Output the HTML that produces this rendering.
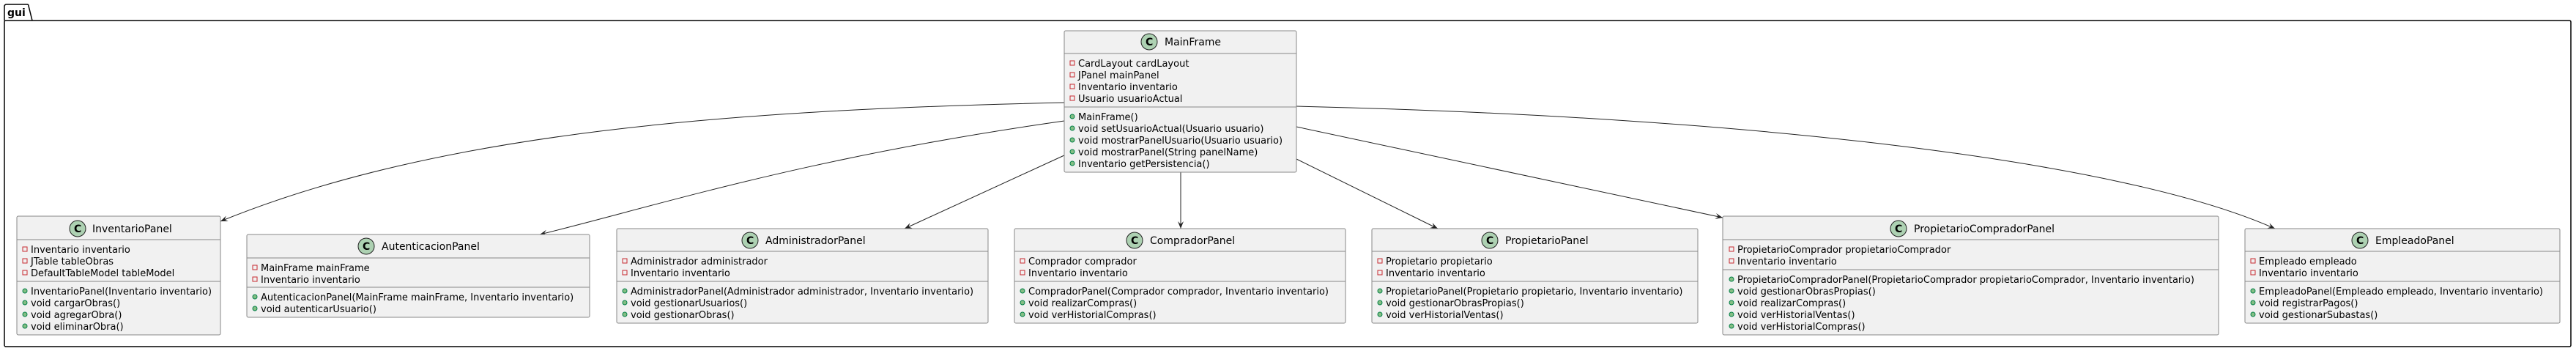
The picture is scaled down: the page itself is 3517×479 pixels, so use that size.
<!DOCTYPE html>
<html><head><meta charset="utf-8"><style>
html,body{margin:0;padding:0;background:#fff;}
svg{display:block;}
text{font-family:"DejaVu Sans","Liberation Sans",sans-serif;font-size:13px;fill:#000;}
.box{fill:#f1f1f1;stroke:#888;stroke-width:1;}
.div{stroke:#888;stroke-width:1;}
.ln{fill:none;stroke:#222;stroke-width:1;}
.ci{fill:#add1b2;stroke:#222;stroke-width:1;}
.pa{fill:none;stroke:#c82930;stroke-width:1;}
.pu{fill:#84be84;stroke:#038048;stroke-width:1;}
.t{font-size:14px;}
</style></head><body>
<svg width="3517" height="479" viewBox="0 0 3517 479" xmlns="http://www.w3.org/2000/svg">
<defs>
<marker id="ar" markerWidth="12" markerHeight="10" refX="10" refY="4" orient="auto" markerUnits="userSpaceOnUse">
<path d="M0,0 L10,4 L0,8 L4,4 z" fill="#222"/>
</marker>
</defs>
<!-- package -->
<path d="M6,28 L6,9 Q6,6 9,6 L37,6 Q39,6 39,8 L44,28" fill="none" stroke="#000" stroke-width="1.5"/>
<rect x="6" y="28" width="3504" height="445" rx="2" fill="none" stroke="#000" stroke-width="1.5"/>
<text x="10" y="22" style="font-weight:bold;font-size:14px">gui</text>

<!-- connectors -->
<path class="ln" d="M1453,140 C1000,150 600,180 301,302" marker-end="url(#ar)"/>
<path class="ln" d="M1453,165 C1100,215 900,280 737,320" marker-end="url(#ar)"/>
<path class="ln" d="M1453,212 L1235,312" marker-end="url(#ar)"/>
<path class="ln" d="M1612,235 L1612,312" marker-end="url(#ar)"/>
<path class="ln" d="M1770,217 L1963,312" marker-end="url(#ar)"/>
<path class="ln" d="M1770,173 L2352,297" marker-end="url(#ar)"/>
<path class="ln" d="M1770,145 C2400,160 2900,220 3106,312" marker-end="url(#ar)"/>

<!-- MainFrame -->
<rect class="box" x="1453" y="42" width="317" height="193" rx="2"/>
<line class="div" x1="1453" y1="73" x2="1770" y2="73"/>
<line class="div" x1="1453" y1="146" x2="1770" y2="146"/>
<circle class="ci" cx="1569" cy="57" r="11"/><text x="1564" y="62" style="font-weight:bold;font-size:14px">C</text>
<text class="t" x="1590" y="62">MainFrame</text>
<rect class="pa" x="1461" y="83" width="6" height="6"/><text x="1472" y="91">CardLayout cardLayout</text>
<rect class="pa" x="1461" y="99" width="6" height="6"/><text x="1472" y="107">JPanel mainPanel</text>
<rect class="pa" x="1461" y="115" width="6" height="6"/><text x="1472" y="123">Inventario inventario</text>
<rect class="pa" x="1461" y="131" width="6" height="6"/><text x="1472" y="139">Usuario usuarioActual</text>
<circle class="pu" cx="1464" cy="159" r="3"/><text x="1472" y="164">MainFrame()</text>
<circle class="pu" cx="1464" cy="175" r="3"/><text x="1472" y="180">void setUsuarioActual(Usuario usuario)</text>
<circle class="pu" cx="1464" cy="191" r="3"/><text x="1472" y="196">void mostrarPanelUsuario(Usuario usuario)</text>
<circle class="pu" cx="1464" cy="207" r="3"/><text x="1472" y="212">void mostrarPanel(String panelName)</text>
<circle class="pu" cx="1464" cy="223" r="3"/><text x="1472" y="228">Inventario getPersistencia()</text>

<!-- InventarioPanel -->
<rect class="box" x="23" y="295" width="278" height="162" rx="2"/>
<line class="div" x1="23" y1="327" x2="301" y2="327"/>
<line class="div" x1="23" y1="384" x2="301" y2="384"/>
<circle class="ci" cx="106" cy="312" r="11"/><text x="101" y="317" style="font-weight:bold;font-size:14px">C</text>
<text class="t" x="126" y="317">InventarioPanel</text>
<rect class="pa" x="31" y="337" width="6" height="6"/><text x="42" y="345">Inventario inventario</text>
<rect class="pa" x="31" y="353" width="6" height="6"/><text x="42" y="361">JTable tableObras</text>
<rect class="pa" x="31" y="369" width="6" height="6"/><text x="42" y="377">DefaultTableModel tableModel</text>
<circle class="pu" cx="34" cy="397" r="3"/><text x="42" y="402">InventarioPanel(Inventario inventario)</text>
<circle class="pu" cx="34" cy="413" r="3"/><text x="42" y="418">void cargarObras()</text>
<circle class="pu" cx="34" cy="429" r="3"/><text x="42" y="434">void agregarObra()</text>
<circle class="pu" cx="34" cy="445" r="3"/><text x="42" y="450">void eliminarObra()</text>

<!-- AutenticacionPanel -->
<rect class="box" x="337" y="320" width="468" height="113" rx="2"/>
<line class="div" x1="337" y1="352" x2="805" y2="352"/>
<line class="div" x1="337" y1="392" x2="805" y2="392"/>
<circle class="ci" cx="500" cy="336" r="11"/><text x="495" y="341" style="font-weight:bold;font-size:14px">C</text>
<text class="t" x="521" y="341">AutenticacionPanel</text>
<rect class="pa" x="345" y="362" width="6" height="6"/><text x="356" y="370">MainFrame mainFrame</text>
<rect class="pa" x="345" y="378" width="6" height="6"/><text x="356" y="386">Inventario inventario</text>
<circle class="pu" cx="348" cy="405" r="3"/><text x="356" y="410">AutenticacionPanel(MainFrame mainFrame, Inventario inventario)</text>
<circle class="pu" cx="348" cy="421" r="3"/><text x="356" y="426">void autenticarUsuario()</text>

<!-- AdministradorPanel -->
<rect class="box" x="842" y="312" width="507" height="129" rx="2"/>
<line class="div" x1="842" y1="343" x2="1349" y2="343"/>
<line class="div" x1="842" y1="384" x2="1349" y2="384"/>
<circle class="ci" cx="1024" cy="328" r="11"/><text x="1019" y="333" style="font-weight:bold;font-size:14px">C</text>
<text class="t" x="1045" y="333">AdministradorPanel</text>
<rect class="pa" x="850" y="353" width="6" height="6"/><text x="861" y="361">Administrador administrador</text>
<rect class="pa" x="850" y="369" width="6" height="6"/><text x="861" y="377">Inventario inventario</text>
<circle class="pu" cx="853" cy="397" r="3"/><text x="861" y="402">AdministradorPanel(Administrador administrador, Inventario inventario)</text>
<circle class="pu" cx="853" cy="413" r="3"/><text x="861" y="418">void gestionarUsuarios()</text>
<circle class="pu" cx="853" cy="429" r="3"/><text x="861" y="434">void gestionarObras()</text>

<!-- CompradorPanel -->
<rect class="box" x="1385" y="312" width="452" height="129" rx="2"/>
<line class="div" x1="1385" y1="343" x2="1837" y2="343"/>
<line class="div" x1="1385" y1="384" x2="1837" y2="384"/>
<circle class="ci" cx="1549" cy="328" r="11"/><text x="1544" y="333" style="font-weight:bold;font-size:14px">C</text>
<text class="t" x="1570" y="333">CompradorPanel</text>
<rect class="pa" x="1393" y="353" width="6" height="6"/><text x="1404" y="361">Comprador comprador</text>
<rect class="pa" x="1393" y="369" width="6" height="6"/><text x="1404" y="377">Inventario inventario</text>
<circle class="pu" cx="1396" cy="397" r="3"/><text x="1404" y="402">CompradorPanel(Comprador comprador, Inventario inventario)</text>
<circle class="pu" cx="1396" cy="413" r="3"/><text x="1404" y="418">void realizarCompras()</text>
<circle class="pu" cx="1396" cy="429" r="3"/><text x="1404" y="434">void verHistorialCompras()</text>

<!-- PropietarioPanel -->
<rect class="box" x="1873" y="312" width="445" height="129" rx="2"/>
<line class="div" x1="1873" y1="343" x2="2318" y2="343"/>
<line class="div" x1="1873" y1="384" x2="2318" y2="384"/>
<circle class="ci" cx="2034" cy="328" r="11"/><text x="2029" y="333" style="font-weight:bold;font-size:14px">C</text>
<text class="t" x="2055" y="333">PropietarioPanel</text>
<rect class="pa" x="1881" y="353" width="6" height="6"/><text x="1892" y="361">Propietario propietario</text>
<rect class="pa" x="1881" y="369" width="6" height="6"/><text x="1892" y="377">Inventario inventario</text>
<circle class="pu" cx="1884" cy="397" r="3"/><text x="1892" y="402">PropietarioPanel(Propietario propietario, Inventario inventario)</text>
<circle class="pu" cx="1884" cy="413" r="3"/><text x="1892" y="418">void gestionarObrasPropias()</text>
<circle class="pu" cx="1884" cy="429" r="3"/><text x="1892" y="434">void verHistorialVentas()</text>

<!-- PropietarioCompradorPanel -->
<rect class="box" x="2352" y="295" width="677" height="162" rx="2"/>
<line class="div" x1="2352" y1="327" x2="3029" y2="327"/>
<line class="div" x1="2352" y1="368" x2="3029" y2="368"/>
<circle class="ci" cx="2592" cy="312" r="11"/><text x="2587" y="317" style="font-weight:bold;font-size:14px">C</text>
<text class="t" x="2613" y="317">PropietarioCompradorPanel</text>
<rect class="pa" x="2361" y="337" width="6" height="6"/><text x="2372" y="345">PropietarioComprador propietarioComprador</text>
<rect class="pa" x="2361" y="353" width="6" height="6"/><text x="2372" y="361">Inventario inventario</text>
<circle class="pu" cx="2364" cy="381" r="3"/><text x="2372" y="386">PropietarioCompradorPanel(PropietarioComprador propietarioComprador, Inventario inventario)</text>
<circle class="pu" cx="2364" cy="397" r="3"/><text x="2372" y="402">void gestionarObrasPropias()</text>
<circle class="pu" cx="2364" cy="413" r="3"/><text x="2372" y="418">void realizarCompras()</text>
<circle class="pu" cx="2364" cy="429" r="3"/><text x="2372" y="434">void verHistorialVentas()</text>
<circle class="pu" cx="2364" cy="445" r="3"/><text x="2372" y="450">void verHistorialCompras()</text>

<!-- EmpleadoPanel -->
<rect class="box" x="3065" y="312" width="430" height="129" rx="2"/>
<line class="div" x1="3065" y1="343" x2="3495" y2="343"/>
<line class="div" x1="3065" y1="384" x2="3495" y2="384"/>
<circle class="ci" cx="3222" cy="328" r="11"/><text x="3217" y="333" style="font-weight:bold;font-size:14px">C</text>
<text class="t" x="3243" y="333">EmpleadoPanel</text>
<rect class="pa" x="3073" y="353" width="6" height="6"/><text x="3084" y="361">Empleado empleado</text>
<rect class="pa" x="3073" y="369" width="6" height="6"/><text x="3084" y="377">Inventario inventario</text>
<circle class="pu" cx="3076" cy="397" r="3"/><text x="3084" y="402">EmpleadoPanel(Empleado empleado, Inventario inventario)</text>
<circle class="pu" cx="3076" cy="413" r="3"/><text x="3084" y="418">void registrarPagos()</text>
<circle class="pu" cx="3076" cy="429" r="3"/><text x="3084" y="434">void gestionarSubastas()</text>
</svg>
</body></html>
